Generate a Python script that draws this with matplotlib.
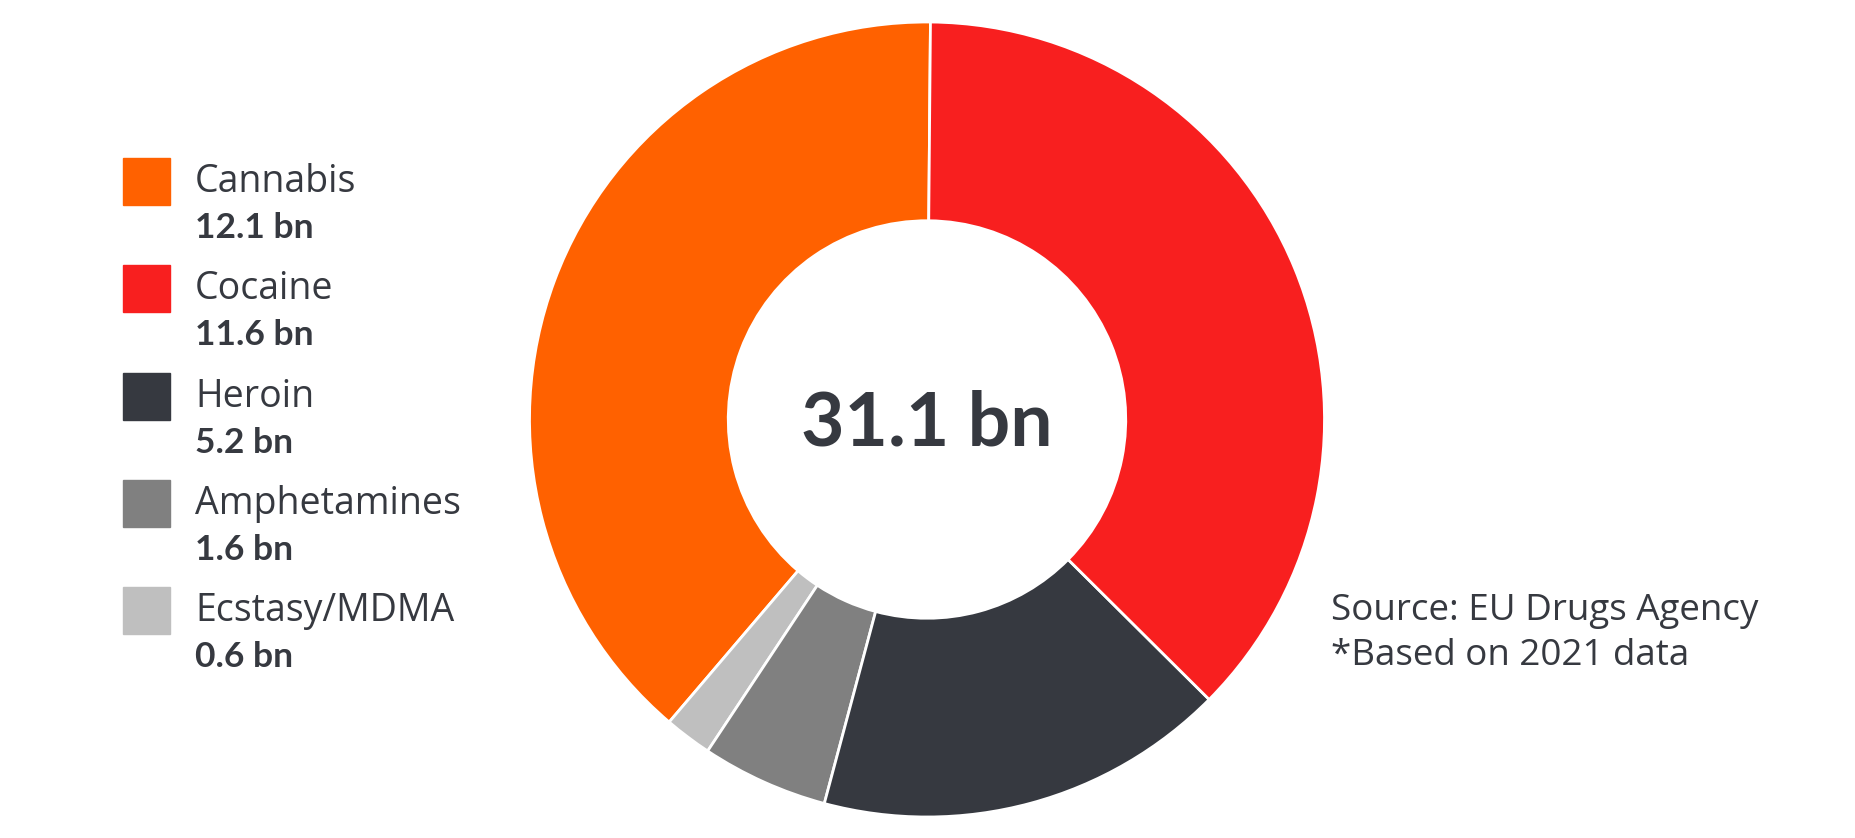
import matplotlib
matplotlib.use("Agg")
import matplotlib.pyplot as plt
from matplotlib.patches import Rectangle

drugs = ["Cannabis", "Cocaine", "Heroin", "Amphetamines", "Ecstasy/MDMA"]
values = [12.1, 11.6, 5.2, 1.6, 0.6]
value_labels = ["12.1 bn", "11.6 bn", "5.2 bn", "1.6 bn", "0.6 bn"]
colors = ["#FF6100", "#F81F1F", "#363940", "#808080", "#BFBFBF"]
total_label = "31.1 bn"
source_lines = ["Source: EU Drugs Agency", "*Based on 2021 data"]

TEXT = "#363940"
W, H = 1856, 838
plt.rcParams["font.family"] = ["Lato", "DejaVu Sans"]
REG = ["Open Sans", "DejaVu Sans"]

fig = plt.figure(figsize=(W / 100, H / 100), dpi=100)


def fx(x):
    return x / W


def fy(y):
    return 1 - y / H


# donut: centre (927, 419) px, outer radius ~397 px
cx, cy, box = 927, 419.5, 400
ax = fig.add_axes([fx(cx - box), fy(cy + box), 2 * box / W, 2 * box / H])

# counter-clockwise from the top: cannabis, ecstasy, amphetamines, heroin, cocaine
order = [0, 4, 3, 2, 1]
r = 397.5 / box
ax.pie([values[i] for i in order], colors=[colors[i] for i in order],
       startangle=89.5, counterclock=True, radius=r,
       wedgeprops=dict(width=r * 0.5, edgecolor="white", linewidth=2))
ax.set_xlim(-1, 1)
ax.set_ylim(-1, 1)
ax.axis("off")
ax.text(0, -0.01, total_label, ha="center", va="center", fontsize=54,
        fontweight="bold", color=TEXT)

# legend
top0, step = 158, 107.3
for i, (name, lab, col) in enumerate(zip(drugs, value_labels, colors)):
    top = top0 + i * step
    fig.patches.append(Rectangle((fx(123), fy(top + 47)), 47 / W, 47 / H,
                                 transform=fig.transFigure, color=col))
    fig.text(fx(195), fy(top + 34), name, fontsize=27, color=TEXT,
             va="baseline", ha="left", family=REG)
    fig.text(fx(195), fy(top + 80), lab, fontsize=25.5, color=TEXT,
             fontweight="bold", va="baseline", ha="left")

for j, line in enumerate(source_lines):
    fig.text(fx(1331), fy(620 + j * 45), line, fontsize=26.5, color=TEXT,
             va="baseline", ha="left", family=REG)

fig.savefig("out.png", dpi=100, facecolor="white")
